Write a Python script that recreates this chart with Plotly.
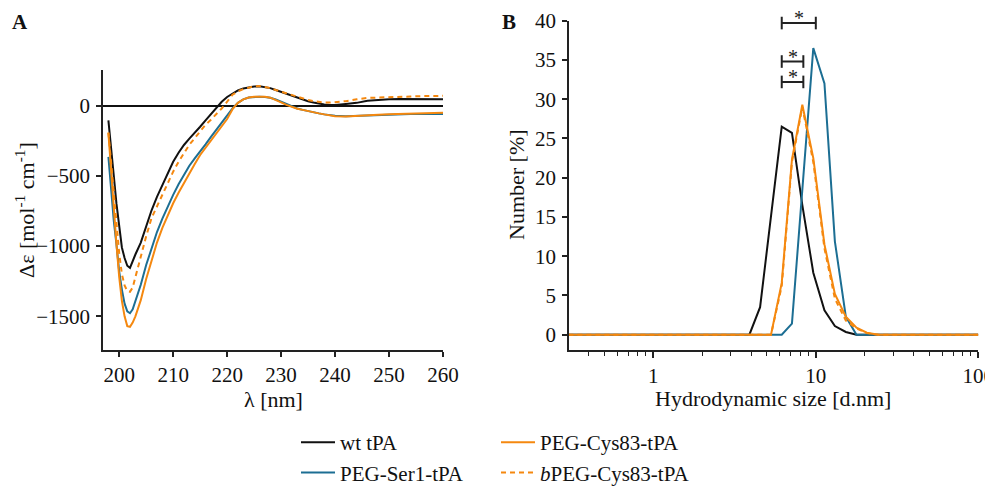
import math
import plotly.graph_objects as go

# ---------------- Panel A: CD spectra ----------------
wavelength = [198, 198.5, 199, 199.5, 200, 200.5, 201, 201.5, 202, 202.5, 203, 204, 205, 206, 207, 208,
              209, 210, 211, 212, 213, 214, 215, 216, 217, 218, 219, 220, 221, 222, 223, 224, 225, 226,
              227, 228, 229, 230, 231, 232, 233, 234, 235, 236, 237, 238, 239, 240, 242, 244, 246, 248,
              250, 252, 254, 256, 258, 260]
cd_wt = [-105, -330, -500, -700, -880, -1010, -1085, -1140, -1155, -1100, -1060, -975, -855, -745, -650, -565,
         -480, -400, -335, -280, -235, -195, -150, -105, -62, -18, 28, 62, 85, 108, 122, 130, 136, 138,
         133, 125, 112, 98, 86, 72, 58, 45, 32, 22, 14, 8, 5, 5, 12, 20, 35, 42,
         45, 48, 48, 50, 48, 45]
cd_ser1 = [-365, -600, -820, -990, -1180, -1310, -1410, -1465, -1478, -1450, -1390, -1275, -1135, -1010, -900, -805,
           -715, -635, -560, -490, -428, -375, -328, -275, -222, -170, -125, -72, -20, 20, 45, 58, 63, 64,
           62, 56, 44, 28, 10, -5, -20, -30, -40, -48, -55, -62, -68, -72, -75, -72, -68, -66,
           -65, -62, -60, -60, -58, -60]
cd_cys83 = [-195, -480, -760, -990, -1220, -1390, -1500, -1570, -1575, -1545, -1500, -1385, -1235, -1095, -975, -870,
            -780, -695, -620, -550, -478, -415, -351, -300, -245, -195, -145, -95, -25, 20, 45, 58, 63, 64,
            64, 57, 42, 24, 6, -10, -22, -30, -40, -48, -55, -62, -70, -75, -78, -72, -68, -65,
            -62, -60, -58, -56, -52, -50]
cd_bcys83 = [-190, -400, -620, -850, -1050, -1200, -1280, -1320, -1325, -1295, -1220, -1090, -930, -800, -715, -630,
             -550, -470, -400, -335, -278, -232, -185, -135, -100, -60, -20, 28, 78, 102, 118, 128, 138, 140,
             135, 125, 112, 100, 90, 75, 62, 50, 40, 32, 25, 22, 22, 25, 32, 45, 55, 58,
             62, 64, 65, 68, 70, 70]

# ---------------- Panel B: DLS number distribution ----------------
dls_size = [0.3, 3.9, 4.54, 5.3, 6.17, 7.13, 8.26, 9.65, 11.3, 13.1, 15.3, 17.8, 20.6, 24.3, 100]
dls_wt = [0, 0, 3.5, 15.0, 26.5, 25.7, 16.5, 7.9, 3.1, 1.1, 0.35, 0, 0, 0, 0]
dls_ser1 = [0, 0, 0, 0, 0, 1.4, 18.5, 36.5, 32.0, 11.9, 2.3, 0, 0, 0, 0]
dls_cys83 = [0, 0, 0, 0, 6.6, 22.3, 29.3, 22.5, 11.5, 5.2, 2.3, 0.9, 0.25, 0, 0]
dls_bcys83 = [0, 0, 0, 0, 6.2, 22.0, 29.0, 22.0, 11.0, 4.6, 1.8, 0.8, 0.2, 0, 0]

# significance brackets
sig_x0 = [6.17, 6.17, 6.17]
sig_x1 = [10.0, 8.38, 8.38]
sig_y = [39.7, 34.8, 32.2]
sig_text = ["*", "*", "*"]

names = ["wt tPA", "PEG-Ser1-tPA", "PEG-Cys83-tPA", "<i>b</i>PEG-Cys83-tPA"]
colors = ["#111111", "#1c6e93", "#f5880f", "#f5880f"]
dashes = ["solid", "solid", "solid", "5px,4px"]
legends = ["legend", "legend", "legend2", "legend2"]

FONT = "Liberation Serif, Times New Roman, serif"

# page offset (browser body margin) and figure size
OFF = 8
W, H = 993 - OFF, 487 - OFF


def px(xp):
    return (xp - OFF) / W


def py(yp):
    return 1 - (yp - OFF) / H


fig = go.Figure()

cd_series = [cd_wt, cd_ser1, cd_cys83, cd_bcys83]
dls_series = [dls_wt, dls_ser1, dls_cys83, dls_bcys83]

for i in range(4):
    fig.add_trace(go.Scatter(x=wavelength, y=cd_series[i], mode="lines", name=names[i],
                             line=dict(color=colors[i], width=2, dash=dashes[i]),
                             legend=legends[i], xaxis="x", yaxis="y"))
for i in range(4):
    fig.add_trace(go.Scatter(x=dls_size, y=dls_series[i], mode="lines", name=names[i],
                             line=dict(color=colors[i], width=2, dash=dashes[i]),
                             showlegend=False, xaxis="x2", yaxis="y2"))

for i in range(len(sig_y)):
    fig.add_trace(go.Scatter(x=[sig_x0[i], sig_x1[i]], y=[sig_y[i], sig_y[i]], mode="lines+markers",
                             line=dict(color="#222222", width=2),
                             marker=dict(symbol="line-ns", size=9, line=dict(color="#222222", width=2)),
                             showlegend=False, cliponaxis=False, xaxis="x2", yaxis="y2"))
    fig.add_annotation(x=(math.log10(sig_x0[i]) + math.log10(sig_x1[i])) / 2,
                       y=sig_y[i], xref="x2", yref="y2", text=sig_text[i], showarrow=False,
                       yanchor="middle", yshift=5, font=dict(size=20, color="#222222", family=FONT))

axis_common = dict(showline=True, linecolor="#222222", linewidth=1.5, ticks="outside",
                   tickwidth=1.5, tickcolor="#222222", showgrid=False, automargin=False,
                   tickfont=dict(size=21, family=FONT, color="#111111"))

fig.update_layout(
    width=W, height=H,
    margin=dict(l=0, r=0, t=0, b=0, autoexpand=False),
    paper_bgcolor="white", plot_bgcolor="white",
    font=dict(family=FONT, size=21, color="#111111"),
    xaxis=dict(domain=[px(103), px(443)], range=[197, 260], tickvals=[200, 210, 220, 230, 240, 250, 260],
               ticklen=5, ticklabelstandoff=0, zeroline=False, anchor="y", **axis_common),
    yaxis=dict(domain=[py(350), py(70)], range=[-1740, 254], tickvals=[0, -500, -1000, -1500],
               ticklen=5, ticklabelstandoff=2,
               zeroline=True, zerolinecolor="#111111", zerolinewidth=1.5, anchor="x", **axis_common),
    xaxis2=dict(domain=[px(569), px(978.3)], type="log", range=[-0.519, 2], dtick=1,
                ticklen=6, ticklabelstandoff=0, ticklabeloverflow="allow",
                minor=dict(dtick="D1", ticks="outside", ticklen=4, tickcolor="#222222", tickwidth=1),
                zeroline=False, anchor="y2", **axis_common),
    yaxis2=dict(domain=[py(350), py(20.7)], range=[-1.95, 40], tickvals=list(range(0, 41, 5)),
                ticklen=5, ticklabelstandoff=2, zeroline=False, anchor="x2", **axis_common),
    legend=dict(x=px(296), y=py(422), xanchor="left", yanchor="top", orientation="v", itemwidth=34,
                font=dict(size=21, family=FONT, color="#111111"), bgcolor="rgba(0,0,0,0)", tracegroupgap=0),
    legend2=dict(x=px(496), y=py(422), xanchor="left", yanchor="top", orientation="v", itemwidth=34,
                 font=dict(size=21, family=FONT, color="#111111"), bgcolor="rgba(0,0,0,0)", tracegroupgap=0),
    showlegend=True,
)

titles = [
    dict(text="λ [nm]", x=273, y=399, angle=0),
    dict(text="Δε [mol<sup>-1</sup> cm<sup>-1</sup>]", x=25, y=210, angle=-90),
    dict(text="Hydrodynamic size [d.nm]", x=773, y=398, angle=0),
    dict(text="Number [%]", x=517, y=185, angle=-90),
]
for t in titles:
    fig.add_annotation(x=px(t["x"]), y=py(t["y"]), xref="paper", yref="paper", text=t["text"],
                       textangle=t["angle"], showarrow=False, xanchor="center", yanchor="middle",
                       borderpad=0, font=dict(size=22, family=FONT, color="#111111"))

fig.add_annotation(x=px(10), y=py(22), xref="paper", yref="paper", text="<b>A</b>", showarrow=False,
                   xanchor="left", yanchor="middle", font=dict(size=21, family=FONT, color="#111111"))
fig.add_annotation(x=px(500), y=py(22), xref="paper", yref="paper", text="<b>B</b>", showarrow=False,
                   xanchor="left", yanchor="middle", font=dict(size=21, family=FONT, color="#111111"))

fig.write_html("out.html")
